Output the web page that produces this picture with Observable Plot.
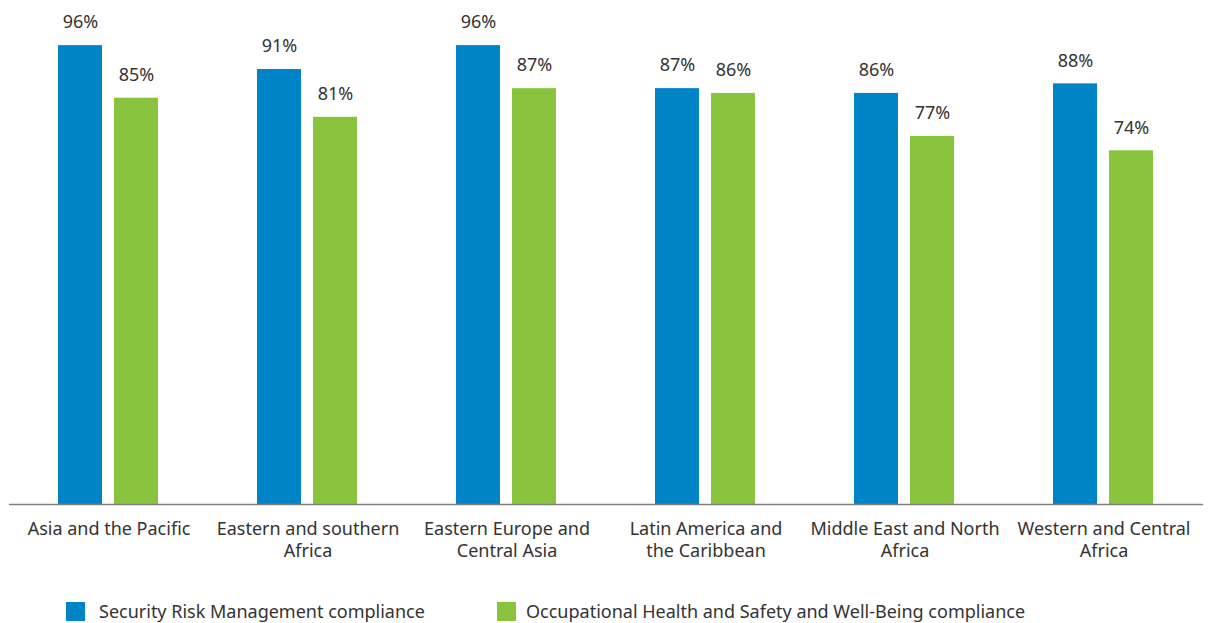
<!DOCTYPE html>
<html>
<head>
<meta charset="utf-8">
<script src="https://cdn.jsdelivr.net/npm/d3@7"></script>
<script src="https://cdn.jsdelivr.net/npm/@observablehq/plot@0.6"></script>
<style>
  body { margin: 0; background: #fff; font-family: "Noto Sans", sans-serif; }
  #legend { position: relative; height: 48px; font-size: 18px; color: #333; }
  .item { position: absolute; top: 24px; display: flex; align-items: center; }
  .sw { width: 19px; height: 19px; }
</style>
</head>
<body>
<div id="chart"></div>
<div id="legend"></div>
<script>
const regions = ["Asia and the Pacific", "Eastern and southern Africa", "Eastern Europe and Central Asia", "Latin America and the Caribbean", "Middle East and North Africa", "Western and Central Africa"];
const regionLabels = ["Asia and the Pacific", "Eastern and southern\nAfrica", "Eastern Europe and\nCentral Asia", "Latin America and\nthe Caribbean", "Middle East and North\nAfrica", "Western and Central\nAfrica"];
const seriesNames = ["Security Risk Management compliance", "Occupational Health and Safety and Well-Being compliance"];
const seriesColors = ["#0084c8", "#8ac43f"];
const securityValues = [96, 91, 96, 87, 86, 88];
const healthValues = [85, 81, 87, 86, 77, 74];

const data = [];
regions.forEach((r, i) => {
  data.push({region: r, series: seriesNames[0], value: securityValues[i]});
  data.push({region: r, series: seriesNames[1], value: healthValues[i]});
});
const labelOf = new Map(regions.map((r, i) => [r, regionLabels[i]]));

const chart = Plot.plot({
  width: 1211,
  height: 575,
  marginTop: 26,
  marginBottom: 71,
  marginLeft: 7,
  marginRight: 6,
  style: {fontFamily: "'Noto Sans', sans-serif", fontSize: "18px", color: "#333", background: "#fff"},
  fx: {domain: regions, padding: 0, label: null},
  x: {domain: seriesNames, paddingInner: 0.21, paddingOuter: 0.855, axis: null},
  y: {domain: [0, 100], axis: null},
  color: {domain: seriesNames, range: seriesColors},
  marks: [
    Plot.barY(data, {fx: "region", x: "series", y: "value", fill: "series"}),
    Plot.ruleY([0], {stroke: "#808080", strokeWidth: 1.5}),
    Plot.text(data, {fx: "region", x: "series", y: "value", text: d => d.value + "%", dy: -23, fill: "#333", fontSize: 18}),
    Plot.axisFx({anchor: "bottom", tickSize: 0, tickPadding: 15, lineHeight: 1.22, fontSize: 18, fill: "#333", tickFormat: d => labelOf.get(d), label: null})
  ]
});
document.getElementById("chart").appendChild(chart);

const legend = document.getElementById("legend");
const lefts = [66, 497];
const gaps = [14, 10];
seriesNames.forEach((s, i) => {
  const it = document.createElement("div");
  it.className = "item";
  it.style.left = lefts[i] + "px";
  const sw = document.createElement("div");
  sw.className = "sw";
  sw.style.background = seriesColors[i];
  sw.style.marginRight = gaps[i] + "px";
  const t = document.createElement("span");
  t.textContent = s;
  it.appendChild(sw);
  it.appendChild(t);
  legend.appendChild(it);
});
</script>
</body>
</html>
